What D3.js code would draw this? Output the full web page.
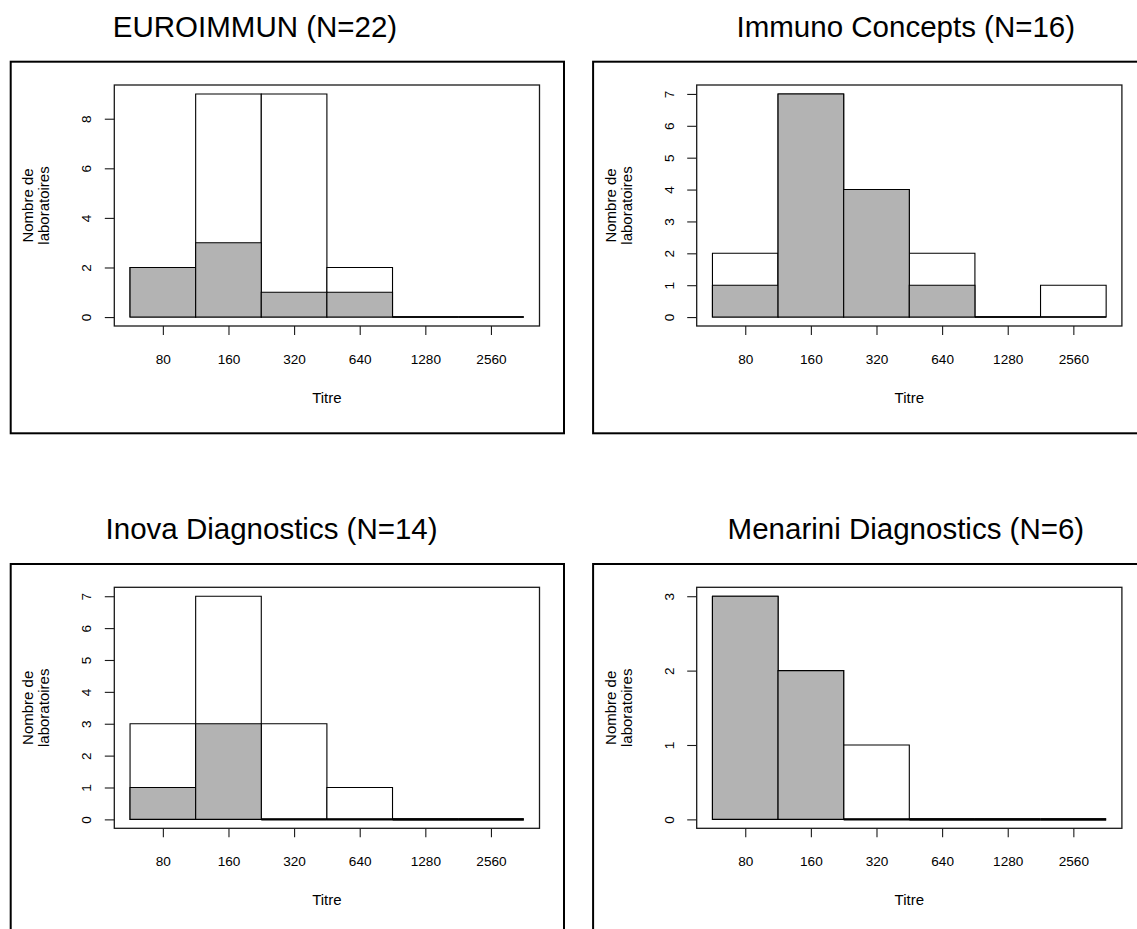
<!DOCTYPE html>
<html>
<head>
<meta charset="utf-8">
<script src="https://cdn.jsdelivr.net/npm/d3@7"></script>
<style>
  html, body { margin: 0; padding: 0; background: #fff; }
  svg { display: block; }
  text { font-family: "Liberation Sans", Arial, sans-serif; fill: #000; }
</style>
</head>
<body>
<svg id="chart" width="1137" height="929"></svg>
<script>
// Titre bins shared by every histogram
const categories = ["80", "160", "320", "640", "1280", "2560"];

// Panel titles
const panelTitles = [
  "EUROIMMUN (N=22)",
  "Immuno Concepts (N=16)",
  "Inova Diagnostics (N=14)",
  "Menarini Diagnostics (N=6)"
];

// All laboratories (white bars) per kit
const totalEuroimmun = [2, 9, 9, 2, 0, 0];
const totalImmunoConcepts = [2, 7, 4, 2, 0, 1];
const totalInova = [3, 7, 3, 1, 0, 0];
const totalMenarini = [3, 2, 1, 0, 0, 0];

// Subset of laboratories (grey bars) per kit
const subsetEuroimmun = [2, 3, 1, 1, 0, 0];
const subsetImmunoConcepts = [1, 7, 4, 1, 0, 0];
const subsetInova = [1, 3, 0, 0, 0, 0];
const subsetMenarini = [3, 2, 0, 0, 0, 0];

// Y axis tick labels per panel
const ticksEuroimmun = [0, 2, 4, 6, 8];
const ticksImmunoConcepts = [0, 1, 2, 3, 4, 5, 6, 7];
const ticksInova = [0, 1, 2, 3, 4, 5, 6, 7];
const ticksMenarini = [0, 1, 2, 3];

const xLabel = "Titre";
const yLabelLines = ["Nombre de", "laboratoires"];

const panels = [
  { title: panelTitles[0], total: totalEuroimmun, subset: subsetEuroimmun, ticks: ticksEuroimmun },
  { title: panelTitles[1], total: totalImmunoConcepts, subset: subsetImmunoConcepts, ticks: ticksImmunoConcepts },
  { title: panelTitles[2], total: totalInova, subset: subsetInova, ticks: ticksInova },
  { title: panelTitles[3], total: totalMenarini, subset: subsetMenarini, ticks: ticksMenarini }
];

// Layout (pixels)
const colOffset = 582.4, rowOffset = 502.3;
const titleCenters = [255, 323.4, 271.6, 323.5];
const zeroLineWidths = [1.5, 1.6, 2.2, 2.2];
const frame = { x0: 10.7, x1: 564, y0: 61.7, y1: 433.3 };
const box = { x0: 114.3, x1: 539.5, y0: 85, y1: 326 };
const greyFill = "#b3b3b3";

const svg = d3.select("#chart");

panels.forEach((p, i) => {
  const col = i % 2, row = Math.floor(i / 2);
  const g = svg.append("g")
    .attr("transform", `translate(${col * colOffset},${row * rowOffset})`);

  // figure frame
  g.append("rect")
    .attr("x", frame.x0).attr("y", frame.y0)
    .attr("width", frame.x1 - frame.x0).attr("height", frame.y1 - frame.y0)
    .attr("fill", "none").attr("stroke", "#000").attr("stroke-width", 2);

  // title
  g.append("text")
    .attr("x", titleCenters[i]).attr("y", 36.7)
    .attr("text-anchor", "middle")
    .style("font-size", "29.5px")
    .text(p.title);

  const n = categories.length;
  const yMax = d3.max(p.total);
  const x = d3.scaleLinear()
    .domain([-0.04 * n, n * 1.04])
    .range([box.x0, box.x1]);
  const y = d3.scaleLinear()
    .domain([-0.04 * yMax, yMax * 1.04])
    .range([box.y1, box.y0]);

  const barPath = (v, k) => {
    const xa = x(k), xb = x(k + 1), ya = y(0), yb = y(v);
    return `M${xa},${ya}H${xb}V${yb}H${xa}Z`;
  };
  const strokeW = v => (v === 0 ? zeroLineWidths[i] : 1.1);

  // white bars: all laboratories
  g.append("g").selectAll("path")
    .data(p.total)
    .join("path")
    .attr("d", (v, k) => barPath(v, k))
    .attr("fill", "#fff")
    .attr("stroke", "#000")
    .attr("stroke-width", strokeW);

  // grey bars: subset
  g.append("g").selectAll("path")
    .data(p.subset)
    .join("path")
    .attr("d", (v, k) => barPath(v, k))
    .attr("fill", greyFill)
    .attr("stroke", "#000")
    .attr("stroke-width", strokeW);

  // plot box
  g.append("rect")
    .attr("x", box.x0).attr("y", box.y0)
    .attr("width", box.x1 - box.x0).attr("height", box.y1 - box.y0)
    .attr("fill", "none").attr("stroke", "#1a1a1a").attr("stroke-width", 1.3);

  // x axis: ticks at bin centres
  const xAxis = d3.axisBottom(x)
    .tickValues(categories.map((c, k) => k + 0.5))
    .tickFormat((d, k) => categories[k])
    .tickSize(9)
    .tickPadding(18);
  const xa = g.append("g")
    .attr("transform", `translate(0,${box.y1})`)
    .call(xAxis);
  xa.select(".domain").remove();
  xa.selectAll("line").attr("stroke", "#1a1a1a").attr("stroke-width", 1.1);
  xa.selectAll("text")
    .attr("y", null).attr("dy", null)
    .attr("y", 37.5)
    .style("font-size", "13.6px")
    .style("font-family", "'Liberation Sans', Arial, sans-serif")
    .attr("fill", "#000");

  // y axis with labels parallel to the axis
  const yAxis = d3.axisLeft(y)
    .tickValues(p.ticks)
    .tickFormat(d3.format("d"))
    .tickSize(9.5);
  const ya = g.append("g")
    .attr("transform", `translate(${box.x0},0)`)
    .call(yAxis);
  ya.select(".domain").remove();
  ya.selectAll("line").attr("stroke", "#1a1a1a").attr("stroke-width", 1.1);
  ya.selectAll(".tick text")
    .attr("x", null).attr("dy", null)
    .attr("text-anchor", "middle")
    .attr("transform", "translate(-28,0) rotate(-90)")
    .attr("dy", "0.36em")
    .style("font-size", "13.6px")
    .style("font-family", "'Liberation Sans', Arial, sans-serif")
    .attr("fill", "#000");

  // axis titles
  g.append("text")
    .attr("x", (box.x0 + box.x1) / 2).attr("y", 402.7)
    .attr("text-anchor", "middle")
    .style("font-size", "15px")
    .text(xLabel);

  const yc = (box.y0 + box.y1) / 2;
  [-86.3, -70.3].forEach((dx, k) => {
    g.append("text")
      .attr("transform", `translate(${box.x0 + dx},${yc}) rotate(-90)`)
      .attr("text-anchor", "middle")
      .attr("dy", "0.36em")
      .style("font-size", "15px")
      .text(yLabelLines[k]);
  });
});
</script>
</body>
</html>
